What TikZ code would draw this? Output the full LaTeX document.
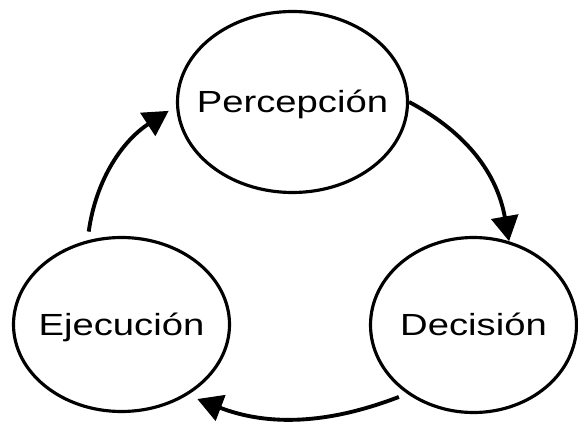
\documentclass[tikz,border=0pt]{standalone}
\usepackage{fontspec}
\setmainfont{Liberation Sans}
\usetikzlibrary{shapes.geometric}
\usetikzlibrary{arrows.meta}
\newcommand{\etapa}[1]{\makebox[0pt]{\scalebox{1.25}[1]{#1}}}

\begin{document}
\begin{tikzpicture}[
			etapa_box/.style = {draw, ellipse, black, line width=1.8pt, inner sep=0pt, text height=12.5pt, text depth=0pt, font=\fontsize{17.4}{19}\selectfont},
			flecha/.style    = {black, line width=2.2pt, >={Triangle[length=5mm,width=5.4mm]}},]

			\useasboundingbox (0,0) rectangle (11.56,8.46);

			%% LAS TRES ETAPAS
			\node[etapa_box, minimum width=4.6cm, minimum height=3.62cm] (perc) at (5.85,6.42) {\etapa{Percepción}};
			\node[etapa_box, minimum width=4.12cm, minimum height=3.5cm] (dec) at (9.47,1.96) {\etapa{Decisión}};
			\node[etapa_box, minimum width=4.32cm, minimum height=3.48cm] (ejec) at (2.43,1.97) {\etapa{Ejecución}};

			%% CICLO
			\draw [flecha] [->] (perc.0) to[out=-28, in=100] (dec.67) ;
			\draw [flecha, shorten <=5pt, shorten >=6pt] [->] (dec.226) to[out=201, in=-21] (ejec.313) ;
			\draw [flecha, shorten <=5pt, shorten >=5pt] [->] (ejec.112) to[out=82, in=213] (perc.182) ;
\end{tikzpicture}
\end{document}
